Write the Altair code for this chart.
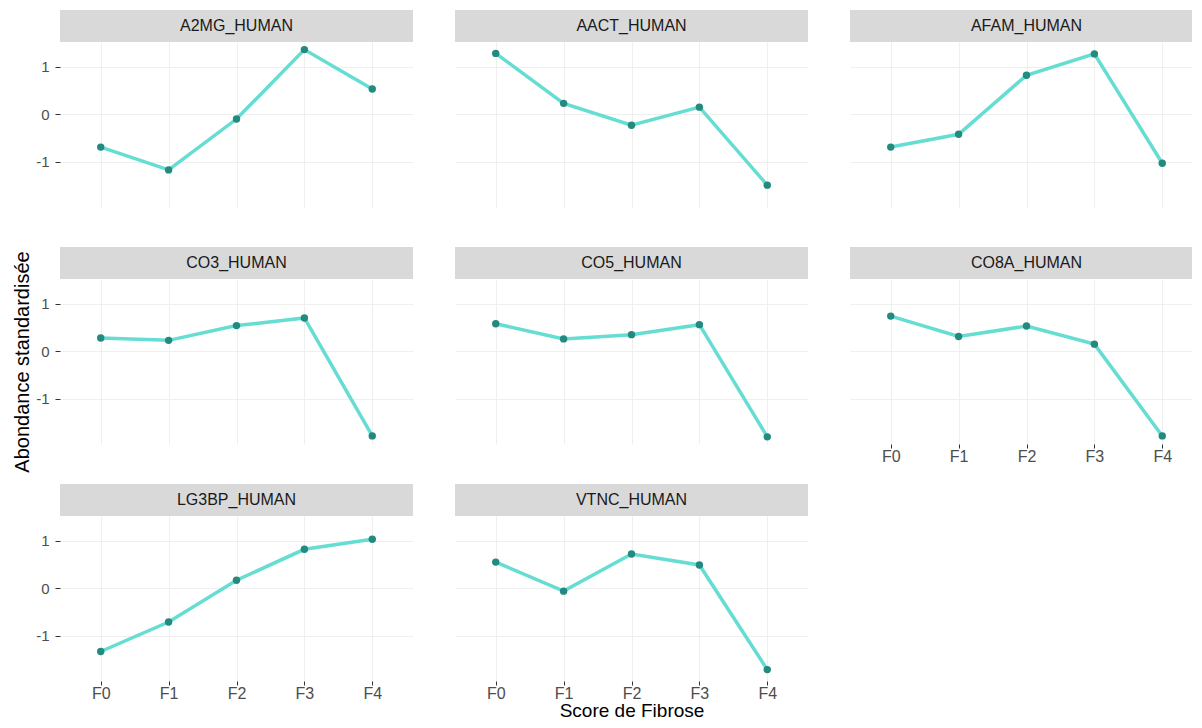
import altair as alt
import pandas as pd

stages = ["F0", "F1", "F2", "F3", "F4"]
proteins = ["A2MG_HUMAN", "AACT_HUMAN", "AFAM_HUMAN", "CO3_HUMAN",
            "CO5_HUMAN", "CO8A_HUMAN", "LG3BP_HUMAN", "VTNC_HUMAN"]
a2mg = [-0.69, -1.17, -0.10, 1.36, 0.53]
aact = [1.28, 0.23, -0.23, 0.15, -1.49]
afam = [-0.69, -0.42, 0.82, 1.27, -1.03]
co3 = [0.28, 0.23, 0.54, 0.70, -1.78]
co5 = [0.58, 0.26, 0.35, 0.56, -1.80]
co8a = [0.74, 0.31, 0.53, 0.15, -1.78]
lg3bp = [-1.33, -0.71, 0.17, 0.82, 1.03]
vtnc = [0.55, -0.06, 0.72, 0.49, -1.71]
series = [a2mg, aact, afam, co3, co5, co8a, lg3bp, vtnc]

W, H = 353, 165
FONT = "Liberation Sans"
LINE_COL = "#66DDD2"
PT_COL = "#238A80"
GRID = "#EFEFEF"

xs = alt.Scale(type="point", domain=stages, padding=0.6)
ys = alt.Scale(domain=[-1.95, 1.52], nice=False, zero=False)


def panel(name, vals, xlabels=False, ylabels=False, xtitle=None, ytitle=None):
    df = pd.DataFrame({"stage": stages, "value": vals, "protein": name})
    xaxis = alt.Axis(
        grid=True, gridColor=GRID, domain=False,
        labels=xlabels, ticks=xlabels, tickSize=4, tickColor="#333333",
        labelColor="#4D4D4D", labelFontSize=16, labelFont=FONT, labelPadding=0,
        labelAngle=0,
        title=xtitle, titleFont=FONT, titleFontSize=19, titleFontWeight="normal",
        titleColor="#000000", titlePadding=0,
    )
    yaxis_kw = dict(
        values=[-1, 0, 1], labelExpr="'' + datum.value", grid=True,
        gridColor=GRID, domain=False,
        labels=ylabels, ticks=ylabels, tickSize=5, tickColor="#333333",
        labelColor="#4D4D4D", labelFontSize=15, labelFont=FONT, labelPadding=6,
        title=ytitle, titleFont=FONT, titleFontSize=20, titleFontWeight="normal",
        titleColor="#000000",
    )
    if ytitle:
        yaxis_kw.update(titleX=-38, titleBaseline="middle", titleAngle=270)
    yaxis = alt.Axis(**yaxis_kw)
    base = alt.Chart(df)
    line = base.mark_line(color=LINE_COL, strokeWidth=3.5).encode(
        x=alt.X("stage:N", scale=xs, axis=xaxis, sort=stages),
        y=alt.Y("value:Q", scale=ys, axis=yaxis),
    )
    pts = base.mark_circle(color=PT_COL, size=55, opacity=1).encode(
        x=alt.X("stage:N", scale=xs, sort=stages),
        y=alt.Y("value:Q", scale=ys),
    )
    sdf = pd.DataFrame({"protein": [name]})
    strip = alt.Chart(sdf).mark_rect(color="#D9D9D9").encode(
        x=alt.value(0), x2=alt.value(W), y=alt.value(-32), y2=alt.value(0)
    )
    stxt = alt.Chart(sdf).mark_text(font=FONT, fontSize=16, color="#1A1A1A",
                                    baseline="middle", align="center").encode(
        x=alt.value(W / 2), y=alt.value(-16), text="protein:N"
    )
    return alt.layer(line, pts, strip, stxt).properties(width=W, height=H)


p = [None] * 8
p[0] = panel(proteins[0], series[0], ylabels=True)
p[1] = panel(proteins[1], series[1])
p[2] = panel(proteins[2], series[2])
p[3] = panel(proteins[3], series[3], ylabels=True, ytitle="Abondance standardisée")
p[4] = panel(proteins[4], series[4])
p[5] = panel(proteins[5], series[5], xlabels=True)
p[6] = panel(proteins[6], series[6], xlabels=True, ylabels=True)
p[7] = panel(proteins[7], series[7], xlabels=True, xtitle="Score de Fibrose")

chart = alt.concat(*p, columns=3, spacing=alt.RowColnumber(row=72, column=42),
                   bounds="flush").properties(
    padding={"left": 3, "top": 2, "right": -11, "bottom": 0},
    background="white",
).configure_view(strokeWidth=0, stroke=None)

chart.save("out.html", embed_options={"renderer": "svg", "actions": False})
